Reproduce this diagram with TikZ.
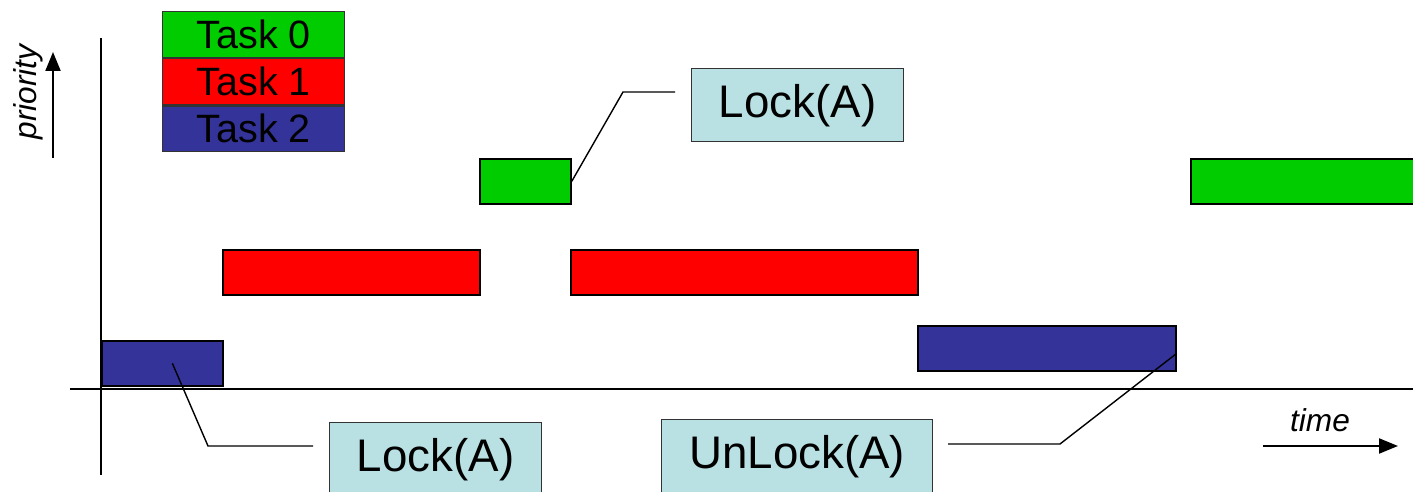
\documentclass[tikz,border=0pt]{standalone}
\usepackage{fontspec}
\setmainfont{Liberation Sans}
\usepackage{tikz}
\usetikzlibrary{arrows.meta, positioning}

\definecolor{taskgreen}{RGB}{0,204,0}
\definecolor{taskred}{RGB}{255,0,0}
\definecolor{taskblue}{RGB}{51,51,153}
\definecolor{lockfill}{RGB}{185,224,227}

\begin{document}
\begin{tikzpicture}[
    x=0.02cm, y=-0.02cm,
    bar/.style = {rectangle, draw=black, line width=1pt, inner sep=0pt, minimum height=0.9cm, anchor=north west},
    legend/.style = {rectangle, draw=black!80, line width=0.8pt, inner sep=0pt, minimum width=3.64cm, minimum height=0.914cm, font=\fontsize{22.5}{26}\selectfont},
    lockbox/.style = {rectangle, draw=black!80, line width=0.8pt, fill=lockfill, inner sep=0pt, minimum height=1.46cm, anchor=north west, font=\fontsize{26}{30}\selectfont},
    axis/.style = {draw=black, line width=1.2pt},
    callout/.style = {draw=black, line width=0.8pt},
    arrowline/.style = {draw=black, line width=1.2pt, -{Triangle[length=0.38cm,width=0.3cm]}},
    axlabel/.style = {font=\itshape\fontsize{18}{22}\selectfont}
]
    \useasboundingbox (0,0) rectangle (1413,492);
    \clip (0,0) rectangle (1413,492);

    % Axes
    \draw [axis] (101,38) -- (101,475);
    \draw [axis] (70,389) -- (1413,389);

    % Axis labels
    \coordinate (prbot) at (53,158);
    \coordinate (prtop) at (53,52);
    \draw [arrowline] (prbot) -- (prtop);
    \node [axlabel, rotate=90] (prio) at (28,92) {priority};
    \coordinate (tmleft) at (1263,446);
    \coordinate (tmright) at (1398,446);
    \draw [arrowline] (tmleft) -- (tmright);
    \node [axlabel] (time) at (1320,420) {time};

    % Legend
    \node [legend, fill=taskgreen, anchor=north west] (leg0) at (162,11) {Task 0};
    \node [legend, fill=taskred, below=0pt of leg0] (leg1) {Task 1};
    \node [legend, fill=taskblue, below=0pt of leg1] (leg2) {Task 2};

    % Task bars
    \node [bar, fill=taskblue, minimum width=2.42cm] (t2a) at (101,340) {};
    \node [bar, fill=taskred, minimum width=5.14cm] (t1a) at (222,249) {};
    \node [bar, fill=taskgreen, minimum width=1.82cm] (t0a) at (479,158) {};
    \node [bar, fill=taskred, minimum width=6.94cm] (t1b) at (570,249) {};
    \node [bar, fill=taskblue, minimum width=5.16cm] (t2b) at (917,325) {};
    \node [bar, fill=taskgreen, minimum width=4.8cm] (t0b) at (1190,158) {};

    % Lock boxes
    \node [lockbox, minimum width=4.24cm] (lock1) at (691,68) {Lock(A)};
    \node [lockbox, minimum width=4.24cm] (lock2) at (329,422) {Lock(A)};
    \node [lockbox, minimum width=5.42cm] (unlock) at (661,419) {UnLock(A)};

    % Callouts
    \coordinate (lk1end) at (675,92);
    \coordinate (lk2end) at (313,446);
    \coordinate (ulend) at (948,444);
    \draw [callout] (t0a.east) -- (623,92) -- (lk1end);
    \draw [callout] ([xshift=0.2cm]t2a.center) -- (208,446) -- (lk2end);
    \draw [callout] (ulend) -- (1060,444) -- ([yshift=-0.1cm]t2b.east);
\end{tikzpicture}
\end{document}
